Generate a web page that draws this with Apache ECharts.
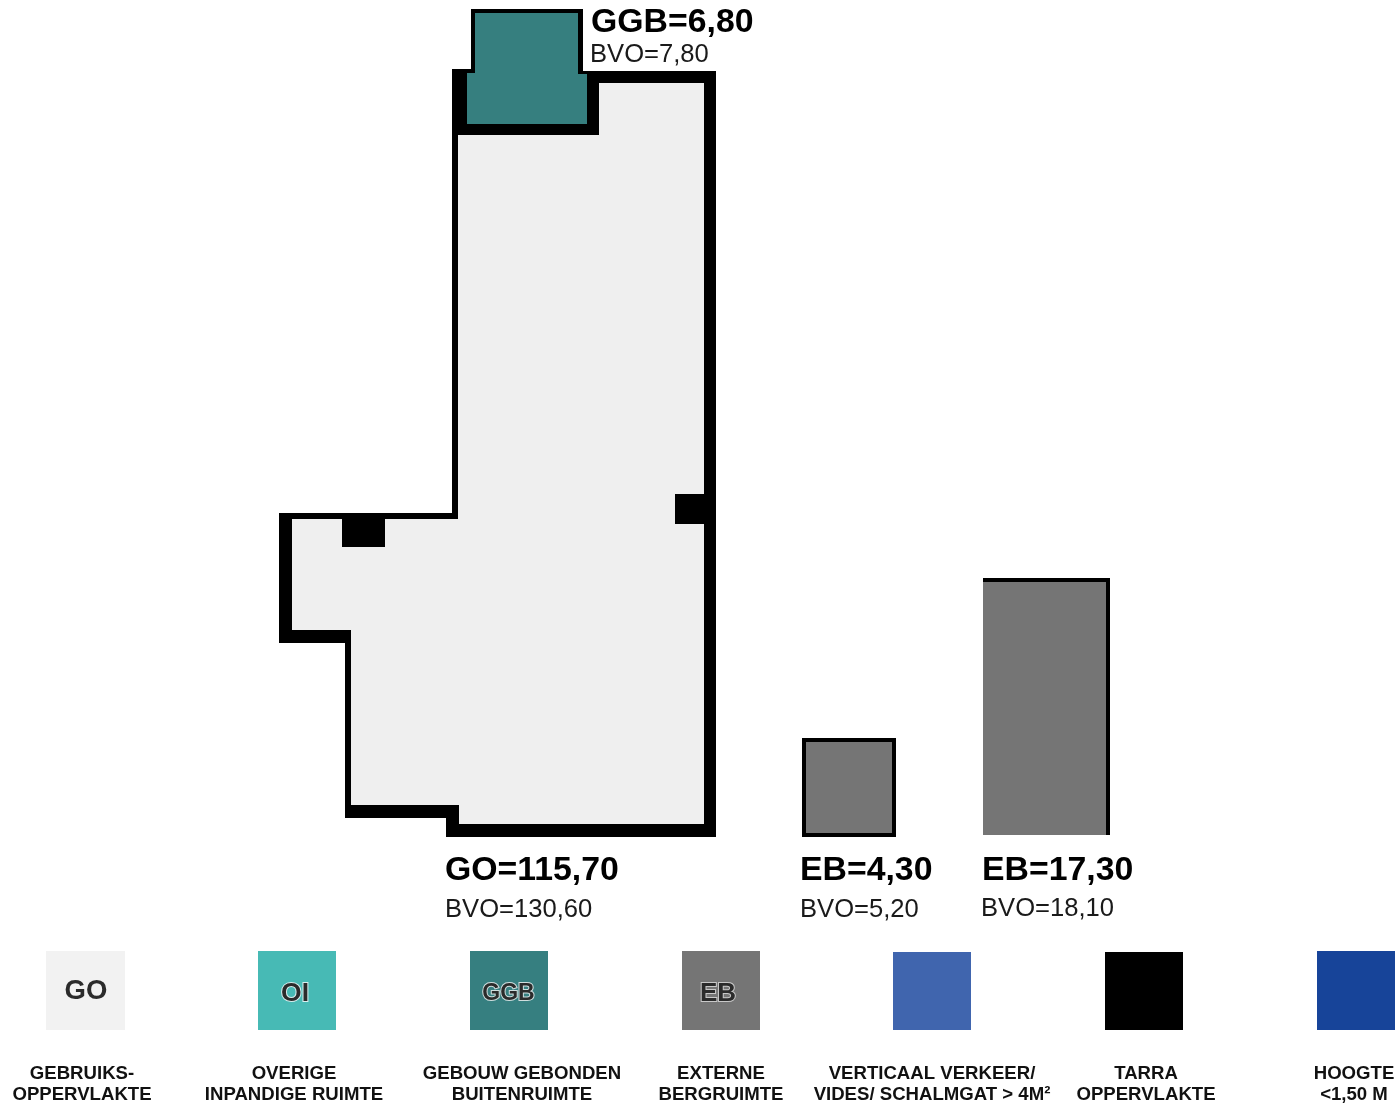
<!DOCTYPE html>
<html>
<head>
<meta charset="utf-8">
<style>html,body{margin:0;padding:0;background:#fff}#c{width:1400px;height:1106px}</style>
<script src="https://cdn.jsdelivr.net/npm/echarts@6/dist/echarts.min.js"></script>
</head>
<body>
<div id="c"></div>
<script>
// Plan outlines, in plan units
const outerWall = [[452,69],[471,69],[471,9],[583,9],[583,71],[716,71],[716,837],[446,837],[446,818],[345,818],[345,643],[279,643],[279,513],[452,513]];
const goFloor = [[458,135],[599,135],[599,83],[704,83],[704,824],[459,824],[459,805],[351,805],[351,630],[292,630],[292,519],[458,519]];
const ggbFloor = [[475,13],[578,13],[578,74],[587,74],[587,124],[467,124],[467,73],[475,73]];
const columnLeft = [[342,519],[385,519],[385,547],[342,547]];
const columnRight = [[675,494],[704,494],[704,524],[675,524]];
const ebSmallOuter = [[802,738],[896,738],[896,837],[802,837]];
const ebSmallInner = [[806,742],[892,742],[892,833],[806,833]];
const ebLargeOuter = [[983,578],[1110,578],[1110,835],[983,835]];
const ebLargeInner = [[983,582],[1106,582],[1106,835],[983,835]];

// Area labels
const areaNames = ['GGB=6,80','GO=115,70','EB=4,30','EB=17,30'];
const areaAnchors = [[591,23],[445,871],[800,871],[982,871]];
const bvoNames = ['BVO=7,80','BVO=130,60','BVO=5,20','BVO=18,10'];
const bvoAnchors = [[590,55],[445,910],[800,910],[981,909]];

// Legend
const legendCodes = ['GO','OI','GGB','EB','','',''];
const legendColors = ['#f2f2f2','#47bab5','#367f80','#757575','#4065ae','#000000','#174499'];
const legendLeft = [46,258,470,682,893,1105,1317];
const legendRight = [125,336,548,760,971,1183,1395];
const legendTop = [951,951,951,951,952,952,951];
const legendBottom = 1030;
const legendLine1 = ['GEBRUIKS-','OVERIGE','GEBOUW GEBONDEN','EXTERNE','VERTICAAL VERKEER/','TARRA','HOOGTE'];
const legendLine2 = ['OPPERVLAKTE','INPANDIGE RUIMTE','BUITENRUIMTE','BERGRUIMTE','VIDES/ SCHALMGAT > 4M²','OPPERVLAKTE','<1,50 M'];
const legendLabelX = [82,294,522,721,932,1146,1354];

const BLACK = '#000000', GO_FILL = '#efefef', GGB_FILL = '#367f7f', EB_FILL = '#757575';
const FF = '"Liberation Sans", Arial, sans-serif';

const shapes = [
  {pts: outerWall, fill: BLACK},
  {pts: goFloor, fill: GO_FILL},
  {pts: ggbFloor, fill: GGB_FILL},
  {pts: columnLeft, fill: BLACK},
  {pts: columnRight, fill: BLACK},
  {pts: ebSmallOuter, fill: BLACK},
  {pts: ebSmallInner, fill: EB_FILL},
  {pts: ebLargeOuter, fill: BLACK},
  {pts: ebLargeInner, fill: EB_FILL}
];
legendColors.forEach((c, i) => {
  const t = legendTop[i], l = legendLeft[i], r = legendRight[i];
  shapes.push({pts: [[l,t],[r,t],[r,legendBottom],[l,legendBottom]], fill: c});
});

const texts = [];
areaNames.forEach((s, i) => texts.push({s, p: areaAnchors[i], font: 'bold 33.8px ' + FF, fill: '#000', align: 'left'}));
bvoNames.forEach((s, i) => texts.push({s, p: bvoAnchors[i], font: '25.6px ' + FF, fill: '#1a1a1a', align: 'left'}));
legendLine1.forEach((s, i) => texts.push({s, p: [legendLabelX[i], 1074], font: 'bold 18.6px ' + FF, fill: '#111', align: 'center'}));
legendLine2.forEach((s, i) => texts.push({s, p: [legendLabelX[i], 1095], font: 'bold 18.6px ' + FF, fill: '#111', align: 'center'}));
const codeStyle = {
  GO:  {x: 86,  y: 991, size: 27.5, stroke: null},
  OI:  {x: 295, y: 994, size: 26.5, stroke: '#d8eeee'},
  GGB: {x: 508.5, y: 994, size: 23, stroke: '#d0dede'},
  EB:  {x: 718, y: 994, size: 26, stroke: '#c8c8c8'}
};
legendCodes.forEach((s, i) => {
  if (!s) return;
  const st = codeStyle[s];
  texts.push({s, p: [st.x, st.y], font: 'bold ' + st.size + 'px ' + FF, fill: '#2b2b2b', align: 'center', stroke: st.stroke});
});

const chart = echarts.init(document.getElementById('c'), null, {renderer: 'canvas', width: 1400, height: 1106});
chart.setOption({
  animation: false,
  backgroundColor: '#ffffff',
  tooltip: {show: false},
  grid: {left: 0, right: 0, top: 0, bottom: 0},
  xAxis: {type: 'value', min: 0, max: 1400, show: false},
  yAxis: {type: 'value', min: 0, max: 1106, inverse: true, show: false},
  series: [
    {
      type: 'custom', coordinateSystem: 'cartesian2d', silent: true, clip: false,
      data: shapes.map((_, i) => [i]),
      renderItem: (params, api) => {
        const sh = shapes[api.value(0)];
        return {type: 'polygon', shape: {points: sh.pts.map(p => api.coord(p))}, style: {fill: sh.fill}};
      }
    },
    {
      type: 'custom', coordinateSystem: 'cartesian2d', silent: true, clip: false, z: 5,
      data: texts.map((_, i) => [i]),
      renderItem: (params, api) => {
        const t = texts[api.value(0)];
        const c = api.coord(t.p);
        const style = {text: t.s, x: c[0], y: c[1], font: t.font, fill: t.fill, textAlign: t.align, textVerticalAlign: 'middle'};
        if (t.stroke) { style.stroke = t.stroke; style.lineWidth = 2; }
        return {type: 'text', style};
      }
    }
  ]
});
</script>
</body>
</html>
